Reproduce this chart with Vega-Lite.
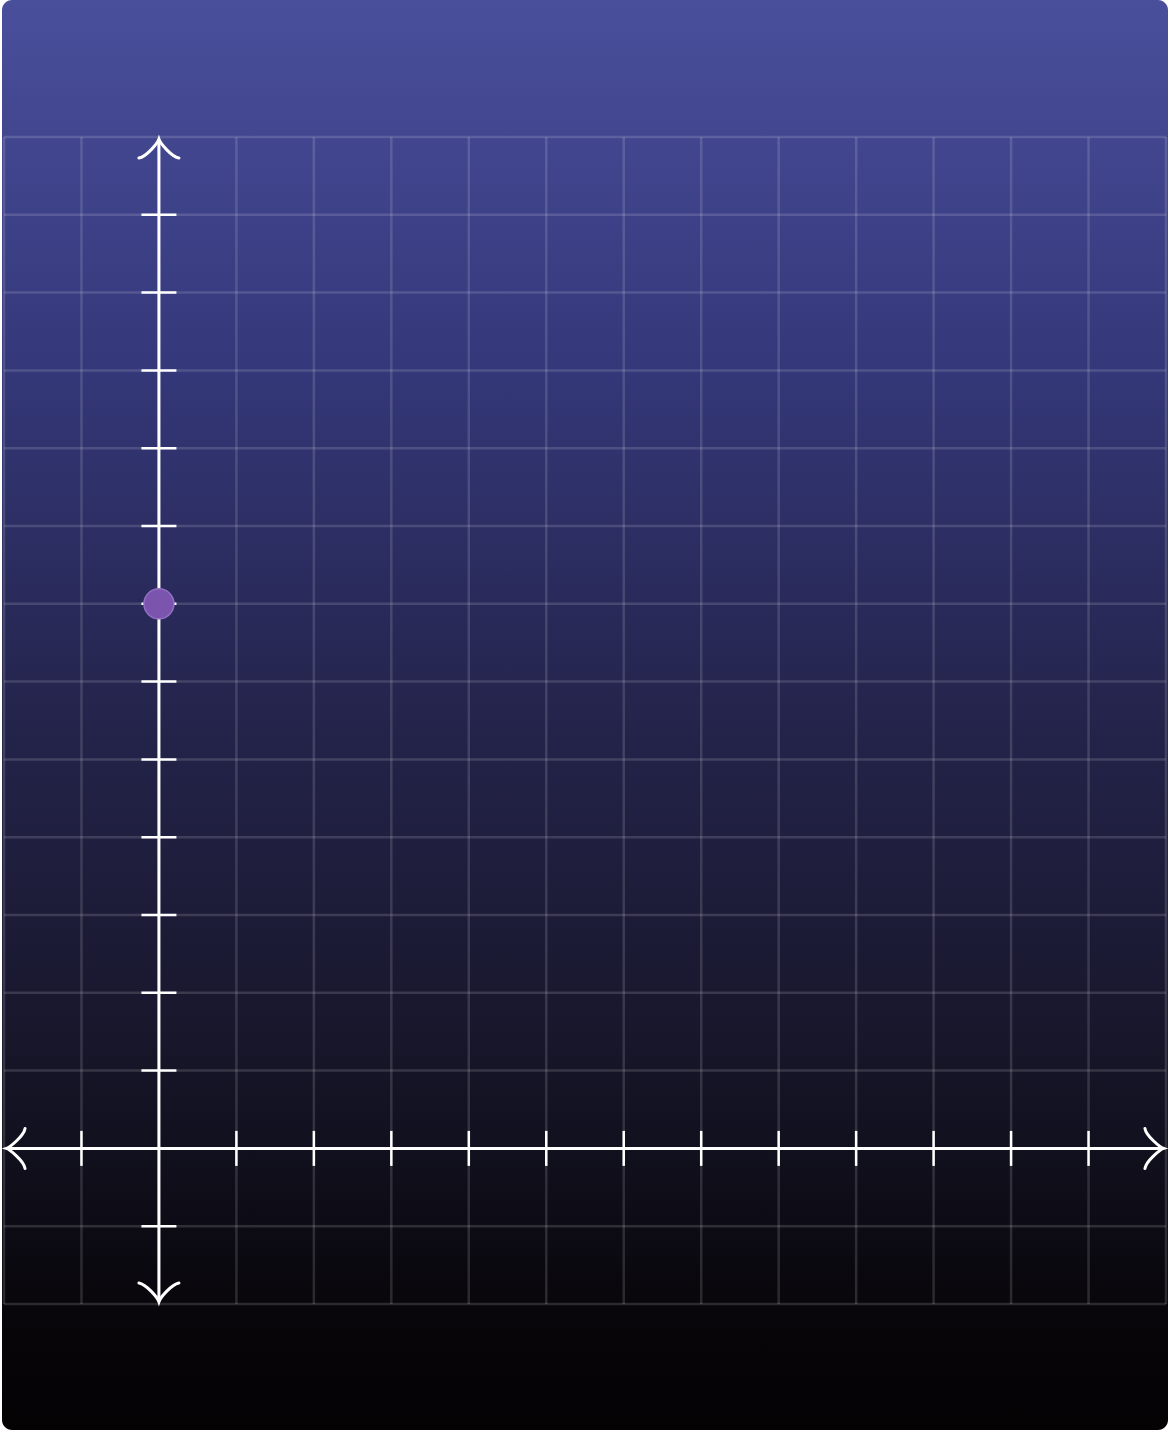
{
  "$schema": "https://vega.github.io/schema/vega-lite/v6.json",
  "width": 1170,
  "height": 1430,
  "padding": 0,
  "autosize": {"type": "fit", "contains": "padding"},
  "background": "white",
  "view": {
    "fill": {
      "gradient": "linear", "x1": 0, "y1": 0, "x2": 0, "y2": 1,
      "stops": [
        {"offset": 0, "color": "#4a4f9c"},
        {"offset": 0.25, "color": "#35387a"},
        {"offset": 0.5, "color": "#24244c"},
        {"offset": 0.72, "color": "#18172c"},
        {"offset": 0.93, "color": "#070508"},
        {"offset": 1, "color": "#050204"}
      ]
    },
    "cornerRadius": 10,
    "stroke": null
  },
  "datasets": {
    "grid": [{"k": -2}, {"k": -1}, {"k": 0}, {"k": 1}, {"k": 2}, {"k": 3}, {"k": 4}, {"k": 5}, {"k": 6}, {"k": 7}, {"k": 8}, {"k": 9}, {"k": 10}, {"k": 11}, {"k": 12}, {"k": 13}],
    "ticks": [{"k": -1}, {"k": 1}, {"k": 2}, {"k": 3}, {"k": 4}, {"k": 5}, {"k": 6}, {"k": 7}, {"k": 8}, {"k": 9}, {"k": 10}, {"k": 11}, {"k": 12}],
    "points": [{"px": 0, "py": 7}]
  },
  "layer": [
    {
      "data": {"name": "grid"},
      "mark": {"type": "rule", "color": "white", "strokeOpacity": 0.14, "strokeWidth": 2.5},
      "encoding": {
        "x": {"field": "k", "type": "quantitative", "axis": null, "scale": {"domain": [-2.0257, 13.0257], "nice": false, "zero": false}},
        "y": {"datum": -2, "type": "quantitative", "axis": null, "scale": {"domain": [-3.6195, 14.761], "nice": false, "zero": false}},
        "y2": {"datum": 13}
      }
    },
    {
      "data": {"name": "grid"},
      "mark": {"type": "rule", "color": "white", "strokeOpacity": 0.14, "strokeWidth": 2.5},
      "encoding": {
        "y": {"field": "k", "type": "quantitative", "axis": null, "scale": {"domain": [-3.6195, 14.761], "nice": false, "zero": false}},
        "x": {"datum": -2, "type": "quantitative", "axis": null, "scale": {"domain": [-2.0257, 13.0257], "nice": false, "zero": false}},
        "x2": {"datum": 13}
      }
    },
    {
      "data": {"values": [{"a": 0}]},
      "mark": {"type": "rule", "color": "white", "strokeWidth": 3},
      "encoding": {
        "y": {"field": "a", "type": "quantitative", "axis": null},
        "x": {"datum": -1.97, "type": "quantitative", "axis": null},
        "x2": {"datum": 12.97}
      }
    },
    {
      "data": {"values": [{"a": 0}]},
      "mark": {"type": "rule", "color": "white", "strokeWidth": 3},
      "encoding": {
        "x": {"field": "a", "type": "quantitative", "axis": null},
        "y": {"datum": -1.97, "type": "quantitative", "axis": null},
        "y2": {"datum": 12.97}
      }
    },
    {
      "data": {"name": "ticks"},
      "mark": {"type": "tick", "orient": "vertical", "color": "white", "size": 35, "thickness": 2.5, "opacity": 1},
      "encoding": {
        "x": {"field": "k", "type": "quantitative", "axis": null},
        "y": {"datum": 0, "type": "quantitative", "axis": null}
      }
    },
    {
      "data": {"name": "ticks"},
      "mark": {"type": "tick", "orient": "horizontal", "color": "white", "size": 35, "thickness": 2.5, "opacity": 1},
      "encoding": {
        "y": {"field": "k", "type": "quantitative", "axis": null},
        "x": {"datum": 0, "type": "quantitative", "axis": null}
      }
    },
    {
      "data": {"values": [{"ax": 12.97, "ay": 0}]},
      "mark": {"type": "point", "shape": "M-3.75 4 C-3.5 2.5 -0.75 0.25 0 0 C-0.75 -0.25 -3.5 -2.5 -3.75 -4", "size": 100, "filled": false, "stroke": "white", "strokeWidth": 3, "strokeCap": "round", "opacity": 1, "angle": 0},
      "encoding": {
        "x": {"field": "ax", "type": "quantitative", "axis": null},
        "y": {"field": "ay", "type": "quantitative", "axis": null}
      }
    },
    {
      "data": {"values": [{"ax": -1.97, "ay": 0}]},
      "mark": {"type": "point", "shape": "M-3.75 4 C-3.5 2.5 -0.75 0.25 0 0 C-0.75 -0.25 -3.5 -2.5 -3.75 -4", "size": 100, "filled": false, "stroke": "white", "strokeWidth": 3, "strokeCap": "round", "opacity": 1, "angle": 180},
      "encoding": {
        "x": {"field": "ax", "type": "quantitative", "axis": null},
        "y": {"field": "ay", "type": "quantitative", "axis": null}
      }
    },
    {
      "data": {"values": [{"ax": 0, "ay": 12.97}]},
      "mark": {"type": "point", "shape": "M-3.75 4 C-3.5 2.5 -0.75 0.25 0 0 C-0.75 -0.25 -3.5 -2.5 -3.75 -4", "size": 100, "filled": false, "stroke": "white", "strokeWidth": 3, "strokeCap": "round", "opacity": 1, "angle": 270},
      "encoding": {
        "x": {"field": "ax", "type": "quantitative", "axis": null},
        "y": {"field": "ay", "type": "quantitative", "axis": null}
      }
    },
    {
      "data": {"values": [{"ax": 0, "ay": -1.97}]},
      "mark": {"type": "point", "shape": "M-3.75 4 C-3.5 2.5 -0.75 0.25 0 0 C-0.75 -0.25 -3.5 -2.5 -3.75 -4", "size": 100, "filled": false, "stroke": "white", "strokeWidth": 3, "strokeCap": "round", "opacity": 1, "angle": 90},
      "encoding": {
        "x": {"field": "ax", "type": "quantitative", "axis": null},
        "y": {"field": "ay", "type": "quantitative", "axis": null}
      }
    },
    {
      "data": {"name": "points"},
      "mark": {"type": "circle", "size": 900, "fill": "#7b54ad", "stroke": "#9370c4", "strokeWidth": 1.5, "opacity": 1},
      "encoding": {
        "x": {"field": "px", "type": "quantitative", "axis": null},
        "y": {"field": "py", "type": "quantitative", "axis": null}
      }
    }
  ]
}
